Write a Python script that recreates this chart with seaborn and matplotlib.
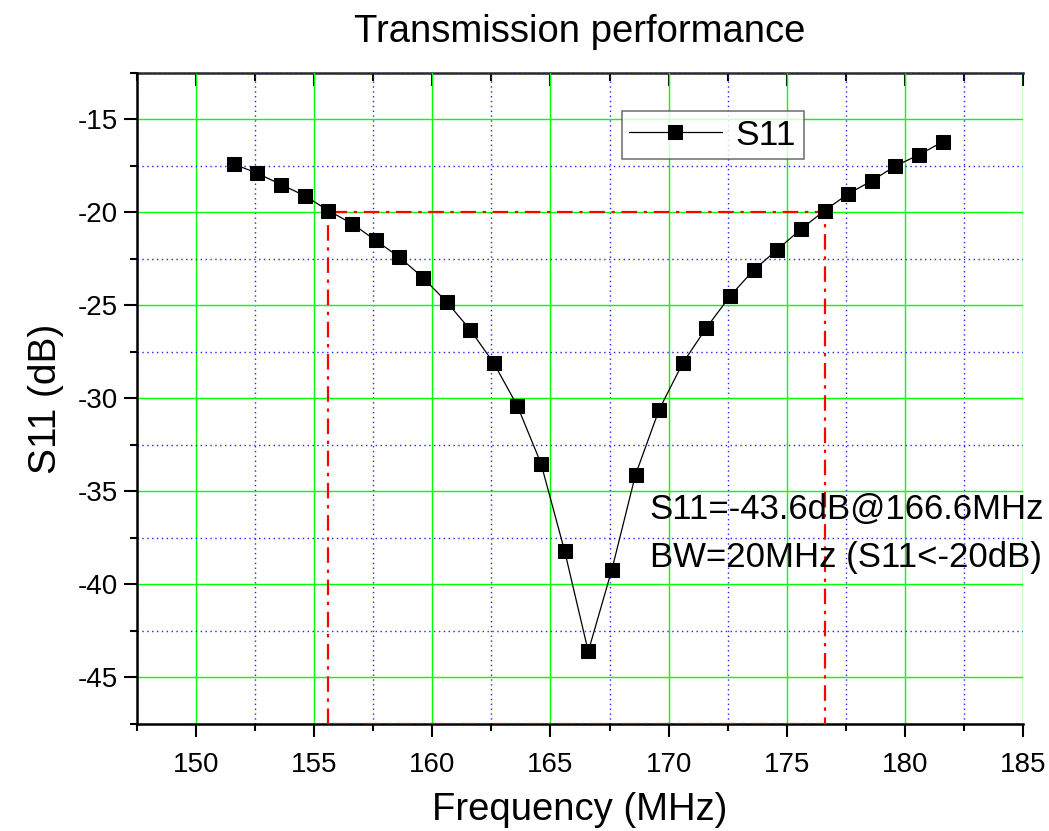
import matplotlib
matplotlib.use('Agg')
import matplotlib.pyplot as plt
from matplotlib.ticker import MultipleLocator
import seaborn as sns

# measured S11 of the antenna
freq = [151.6, 152.6, 153.6, 154.6, 155.6, 156.6, 157.6, 158.6, 159.6, 160.6,
        161.6, 162.6, 163.6, 164.6, 165.6, 166.6, 167.6, 168.6, 169.6, 170.6,
        171.6, 172.6, 173.6, 174.6, 175.6, 176.6, 177.6, 178.6, 179.6, 180.6, 181.6]
s11 = [-17.4, -17.9, -18.5, -19.1, -19.9, -20.6, -21.5, -22.4, -23.5, -24.8,
       -26.3, -28.1, -30.4, -33.5, -38.2, -43.6, -39.2, -34.1, -30.6, -28.1,
       -26.2, -24.5, -23.1, -22.0, -20.9, -19.9, -19.0, -18.3, -17.5, -16.9, -16.2]

# -20 dB bandwidth box
bw_low = 155.6
bw_high = 176.6
threshold = -20
y_floor = -47.5

x_ticks = [150, 155, 160, 165, 170, 175, 180, 185]
y_ticks = [-45, -40, -35, -30, -25, -20, -15]

sns.set_style('white')
plt.rcParams['font.family'] = ['Liberation Sans', 'DejaVu Sans']
plt.rcParams['axes.unicode_minus'] = False
plt.rcParams['text.color'] = 'black'
plt.rcParams['axes.labelcolor'] = 'black'
plt.rcParams['xtick.color'] = 'black'
plt.rcParams['ytick.color'] = 'black'

fig = plt.figure(figsize=(10.49, 8.31), dpi=100)
ax = fig.add_axes([0.1306, 0.1288, 0.8446, 0.7834])

sns.lineplot(x=freq, y=s11, ax=ax, color='black', lw=0.9, marker='s',
             markersize=10.5, markeredgecolor='black', label='S11',
             sort=False, errorbar=None, zorder=5)

# bandwidth rectangle
ax.plot([bw_low, bw_low, bw_high, bw_high, bw_low],
        [y_floor, threshold, threshold, y_floor, y_floor],
        color='red', ls=(0, (7, 3, 1.5, 3)), lw=1.6, zorder=4)

ax.set_xlim(147.5, 185)
ax.set_ylim(-47.5, -12.5)
ax.set_xticks(x_ticks)
ax.set_yticks(y_ticks)
ax.xaxis.set_minor_locator(MultipleLocator(2.5))
ax.yaxis.set_minor_locator(MultipleLocator(2.5))

ax.grid(which='major', color='#00ff00', lw=1.0, ls='-')
ax.grid(which='minor', color='#2222ff', lw=1.0, ls=(0, (1, 2.5)))
ax.set_axisbelow(True)

ax.tick_params(which='major', direction='out', length=9.5, width=1.5,
               labelsize=20, bottom=True, left=True, top=False, right=False)
ax.tick_params(which='minor', direction='out', length=5, width=1.5,
               bottom=True, left=True, top=False, right=False)
ax.tick_params(axis='x', which='major', pad=11)
ax.tick_params(axis='y', which='major', pad=4)

for side in ['left', 'bottom']:
    ax.spines[side].set_linewidth(1.8)
    ax.spines[side].set_color('black')
ax.spines['right'].set_visible(False)
ax.spines['top'].set_visible(False)

# top axis with inward ticks, no labels
top = ax.secondary_xaxis('top')
top.set_xticks(x_ticks)
top.xaxis.set_minor_locator(MultipleLocator(2.5))
top.tick_params(which='major', direction='in', length=9.5, width=1.5, labeltop=False)
top.tick_params(which='minor', direction='in', length=5.5, width=1.5)
top.spines['top'].set_linewidth(1.8)

ax.set_title('Transmission performance', fontsize=27.5, pad=22)
ax.set_xlabel('Frequency (MHz)', fontsize=27.5, labelpad=10)
ax.set_ylabel('S11 (dB)', fontsize=28, labelpad=10)

ax.text(169.2, -36.5, 'S11=-43.6dB@166.6MHz', fontsize=25, va='baseline', zorder=6)
ax.text(169.2, -39.05, 'BW=20MHz (S11<-20dB)', fontsize=25, va='baseline', zorder=6)

leg = ax.legend(loc='upper left', bbox_to_anchor=(0.547, 0.942), fontsize=25.5,
                frameon=True, fancybox=False, edgecolor='#555555',
                handlelength=2.6, handletextpad=0.4, borderpad=0.22,
                borderaxespad=0)
leg.get_frame().set_linewidth(1.2)

plt.savefig('out.png', dpi=100)
